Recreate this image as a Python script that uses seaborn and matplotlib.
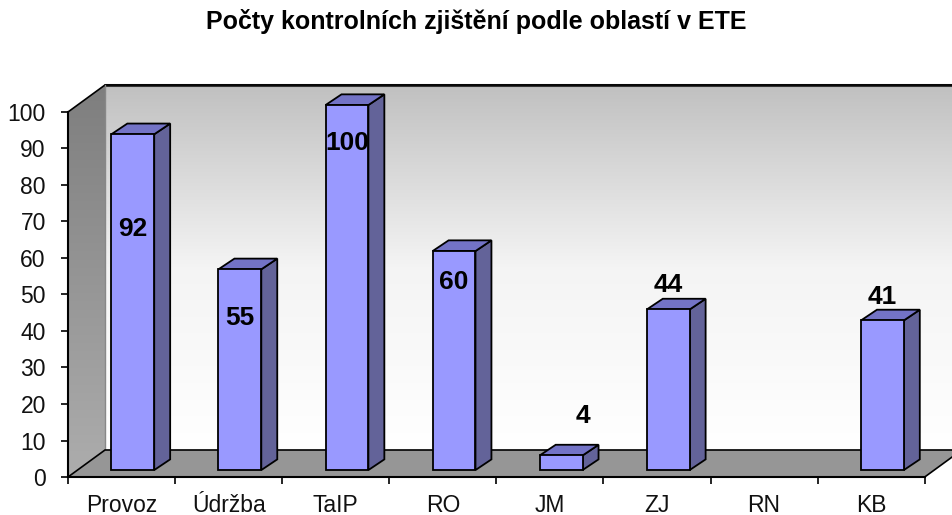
import numpy as np
import pandas as pd
import matplotlib
matplotlib.use("Agg")
import matplotlib.pyplot as plt
from matplotlib.patches import Polygon
import seaborn as sns

# data
oblasti = ["Provoz", "Údržba", "TaIP", "RO", "JM", "ZJ", "RN", "KB"]
pocty = [92, 55, 100, 60, 4, 44, np.nan, 41]
# where Excel put the value labels (value-axis height)
popisky_y = [68, 43.6, 91.5, 53.4, 16.7, 52.6, np.nan, 49.3]
popisky_dx = [0, 0, 0, 0, 0.2, 0, 0, 0]

TITULEK = "Počty kontrolních zjištění podle oblastí v ETE"

# 3D look parameters (in data units)
HLOUBKA_X, HLOUBKA_Y = 0.3455, 7.4      # full depth of floor / walls
POSUN_X, POSUN_Y = 0.105, 1.9           # bar front face offset into depth
SLOUP_X, SLOUP_Y = 0.149, 2.93          # bar depth
SIRKA = 0.40

BARVA_CELO = "#9999ff"
BARVA_BOK = "#636399"
BARVA_VRCH = "#7373c6"


def graf():
    sns.set_theme(style="white")
    plt.rcParams["font.family"] = ["Liberation Sans", "DejaVu Sans"]
    plt.rcParams["text.color"] = "black"
    plt.rcParams["xtick.color"] = "black"
    plt.rcParams["ytick.color"] = "black"
    plt.rcParams["xtick.labelcolor"] = "#111111"
    plt.rcParams["ytick.labelcolor"] = "#111111"

    df = pd.DataFrame({"oblast": oblasti, "pocet": pocty})

    fig = plt.figure(figsize=(9.53, 5.15), dpi=100)
    ax = fig.add_axes([0, 0, 1, 1])

    # back wall with gradient
    x0, x1 = -0.5 + HLOUBKA_X, 7.5 + HLOUBKA_X
    grad = np.linspace(0, 1, 256).reshape(-1, 1)
    cm_zed = matplotlib.colors.LinearSegmentedColormap.from_list(
        "zed", ["#ffffff", "#f4f4f4", "#c0c0c0"])
    ax.imshow(grad, extent=[x0, x1, HLOUBKA_Y, 100 + HLOUBKA_Y], origin="lower",
              cmap=cm_zed, aspect="auto", zorder=0, interpolation="bilinear")
    ax.plot([x0, x1 + 1], [100 + HLOUBKA_Y] * 2, color="#333333", lw=2.2, zorder=1)

    # left wall
    lz = Polygon([(-0.5, 0), (x0, HLOUBKA_Y), (x0, 100 + HLOUBKA_Y), (-0.5, 100)],
                 closed=True, facecolor="none", edgecolor="none")
    ax.add_patch(lz)
    cm_lz = matplotlib.colors.LinearSegmentedColormap.from_list(
        "lz", ["#adadad", "#7e7e7e"])
    im = ax.imshow(grad, extent=[-0.5, x0, 0, 100 + HLOUBKA_Y], origin="lower",
                   cmap=cm_lz, aspect="auto", zorder=0.5, interpolation="bilinear")
    im.set_clip_path(lz)
    ax.plot([-0.5, x0, x1 + 1], [100, 100 + HLOUBKA_Y, 100 + HLOUBKA_Y],
            color="black", lw=1.2, zorder=1)
    ax.plot([x0, x0], [HLOUBKA_Y, 100 + HLOUBKA_Y], color="#888888", lw=1, zorder=1)

    # floor
    podlaha = Polygon([(-0.5, 0), (7.5, 0), (7.5 + HLOUBKA_X, HLOUBKA_Y),
                       (x0, HLOUBKA_Y)], closed=True, facecolor="#969696",
                      edgecolor="black", lw=1.2, zorder=1)
    ax.add_patch(podlaha)

    # bars (front faces)
    sns.barplot(data=df, x="oblast", y="pocet", width=SIRKA, color=BARVA_CELO,
                saturation=1, edgecolor="black", linewidth=1.3, ax=ax, zorder=3)
    ax.set_xlim(-1.135, 7.764)
    ax.set_ylim(-10.41, 130.68)

    bary = [p for p in ax.patches if p.__class__.__name__ == "Rectangle"]
    for p in bary:
        h = p.get_height()
        if not np.isfinite(h):
            p.set_visible(False)
            continue
        p.set_x(p.get_x() + POSUN_X)
        p.set_y(POSUN_Y)
        xa, xb = p.get_x(), p.get_x() + p.get_width()
        b, t = POSUN_Y, POSUN_Y + h
        bok = Polygon([(xb, b), (xb + SLOUP_X, b + SLOUP_Y),
                       (xb + SLOUP_X, t + SLOUP_Y), (xb, t)], closed=True,
                      facecolor=BARVA_BOK, edgecolor="black", lw=1.3, zorder=2.9)
        vrch = Polygon([(xa, t), (xb, t), (xb + SLOUP_X, t + SLOUP_Y),
                        (xa + SLOUP_X, t + SLOUP_Y)], closed=True,
                       facecolor=BARVA_VRCH, edgecolor="black", lw=1.3, zorder=2.9)
        ax.add_patch(bok)
        ax.add_patch(vrch)

    # value labels
    for i, (v, ly) in enumerate(zip(pocty, popisky_y)):
        if not np.isfinite(v):
            continue
        ax.text(i + POSUN_X + popisky_dx[i], ly, f"{v:.0f}",
                ha="center", va="center", fontsize=19, fontweight="bold",
                color="black", zorder=5)

    # axes: spines at the front plane
    for s in ["top", "right"]:
        ax.spines[s].set_visible(False)
    ax.spines["left"].set_position(("data", -0.5))
    ax.spines["left"].set_bounds(0, 100)
    ax.spines["bottom"].set_position(("data", 0))
    ax.spines["bottom"].set_bounds(-0.5, 7.5)
    for s in ["left", "bottom"]:
        ax.spines[s].set_color("black")
        ax.spines[s].set_linewidth(1.5)
        ax.spines[s].set_zorder(4)

    ax.set_yticks(range(0, 101, 10))
    ax.tick_params(axis="y", direction="out", length=5, width=1.2,
                   pad=11, labelsize=16.5, left=True)
    ax.set_xticks(range(len(oblasti)))
    ax.set_xticklabels(oblasti)
    ax.set_xticks(np.arange(-0.5, 8, 1), minor=True)
    ax.tick_params(axis="x", which="major", length=0, pad=12, labelsize=16.5)
    ax.tick_params(axis="x", which="minor", direction="out", length=5, width=1.2,
                   bottom=True)
    ax.set_xlabel("")
    ax.set_ylabel("")
    ax.grid(False)
    ax.patch.set_visible(False)

    fig.text(0.5, 1 - 22 / 515, TITULEK, ha="center", va="center",
             fontsize=18, fontweight="bold")

    fig.savefig("out.png", dpi=100)


if __name__ == "__main__":
    graf()
